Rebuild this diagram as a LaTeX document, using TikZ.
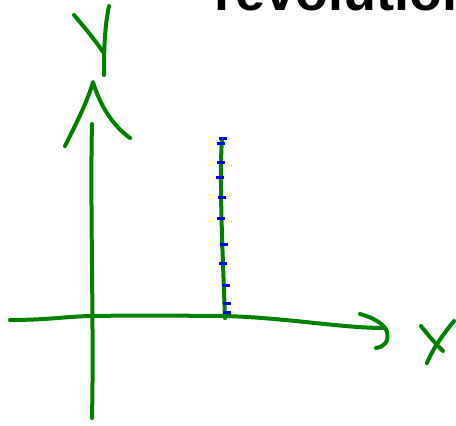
\documentclass[tikz,border=0pt]{standalone}
\usepackage{fontspec}
\setmainfont{Liberation Sans}
\definecolor{ink}{RGB}{0,128,0}
\definecolor{tick}{RGB}{0,0,255}
\begin{document}
\begin{tikzpicture}[x=1pt,y=-1pt,
  pen/.style={draw=ink,line width=4pt,line cap=round,line join=round},
  bluetick/.style={draw=tick,line width=3pt,line cap=butt},
  title/.style={anchor=base west,inner sep=0pt,font=\fontsize{54}{54}\selectfont\bfseries}]
\useasboundingbox (0,0) rectangle (456,426);
\clip (0,0) rectangle (456,426);
% cropped title
\node[title] (title) at (214,10) {revolution};
% y axis
\draw[pen] (92,418) .. controls (94,330) and (90,200) .. (92,124);
\draw[pen] (65,146) .. controls (78,120) and (88,100) .. (93,82) .. controls (100,105) and (112,125) .. (130,138);
% Y letter
\draw[pen] (74,15) .. controls (85,28) and (95,40) .. (103,52);
\draw[pen] (109,6) .. controls (104,30) and (104,55) .. (104,75);
% x axis
\draw[pen] (10,320) .. controls (50,320) and (70,316) .. (93,316) .. controls (150,315) and (200,316) .. (225,316) .. controls (290,318) and (340,328) .. (385,328);
\draw[pen] (360,314) .. controls (375,318) and (385,325) .. (387,332) .. controls (389,342) and (384,347) .. (376,348);
% X letter
\draw[pen] (421,326) .. controls (428,335) and (434,342) .. (443,351);
\draw[pen] (454,321) .. controls (445,332) and (433,348) .. (427,363);
% vertical segment
\draw[pen] (222,139) .. controls (219,180) and (223,260) .. (225,318);
% blue ticks
\foreach \yy/\xx in {138/223,143/221,162/221,177/220,197/222,218/221,244/224,263/223,285/226,303/227,312/227}
  \draw[bluetick] (\xx-4,\yy) -- (\xx+4,\yy);
\end{tikzpicture}
\end{document}
